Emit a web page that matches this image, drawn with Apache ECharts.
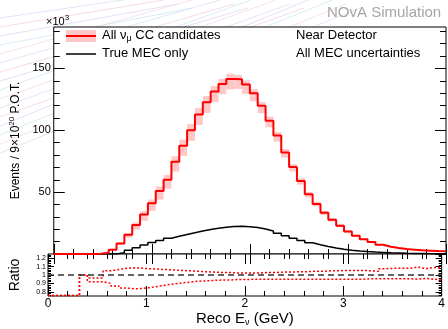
<!DOCTYPE html>
<html>
<head>
<meta charset="utf-8">
<script src="https://cdn.jsdelivr.net/npm/echarts@6/dist/echarts.min.js"></script>
<style>
  html, body { margin: 0; padding: 0; background: #fff; }
  #chart { width: 448px; height: 329px; }
</style>
</head>
<body>
<div id="chart"></div>
<script>
// binning: 50 bins of 0.08 GeV between 0 and 4 GeV
const binWidth = 0.08;
const nBins = 50;

// events per bin (x10^3), all numu CC candidates
const allNumuCC = [
  0, 0, 0, 0, 0.1, 0.3, 1.0, 3.5, 8.5, 15.5,
  23.5, 32, 41, 51, 60, 74.5, 87.6, 100, 112.8, 122.7,
  131.3, 137.4, 141.5, 141.2, 137, 130, 119.8, 107.8, 95.7, 82,
  70.3, 59, 48.2, 40.5, 33.3, 27.6, 22.8, 18.2, 14.7, 12,
  9.6, 7.5, 5.9, 4.9, 4, 3.5, 3, 2.7, 2.4, 2.2
];

// true MEC only (x10^3)
const trueMEC = [
  0, 0, 0, 0, 0, 0, 0, 0, 1.0, 3.0,
  5.0, 7.2, 9.2, 11.0, 12.7, 14.3, 15.8, 17.2, 18.6, 19.8,
  20.8, 21.6, 22.2, 22.4, 22.1, 21.4, 20.2, 18.6, 16.8, 14.8,
  12.8, 10.9, 9.1, 7.5, 6.1, 4.9, 3.9, 3.1, 2.5, 2.0,
  1.6, 1.3, 1.0, 0.8, 0.6, 0.5, 0.4, 0.3, 0.25, 0.2
];

// shifted / nominal ratio, upper and lower envelope of MEC uncertainties
const ratioUp = [
  0.755, 0.755, 0.755, 0.755, 1.0, 0.965, 0.965, 1.05, 1.065, 1.08,
  1.085, 1.08, 1.075, 1.07, 1.065, 1.06, 1.055, 1.05, 1.045, 1.04,
  1.035, 1.03, 1.03, 1.025, 1.025, 1.025, 1.025, 1.03, 1.03, 1.035,
  1.035, 1.04, 1.04, 1.045, 1.045, 1.05, 1.05, 1.055, 1.055, 1.055,
  1.05, 1.045, 1.075, 1.08, 1.08, 1.08, 1.095, 1.075, 1.09, 1.085
];
const ratioDown = [
  0.755, 0.755, 0.755, 0.755, 1.0, 0.92, 0.92, 0.9, 0.87, 0.845,
  0.835, 0.84, 0.85, 0.865, 0.88, 0.895, 0.905, 0.915, 0.925, 0.93,
  0.935, 0.94, 0.94, 0.945, 0.945, 0.95, 0.95, 0.95, 0.95, 0.95,
  0.95, 0.95, 0.95, 0.95, 0.95, 0.95, 0.95, 0.95, 0.95, 0.95,
  0.955, 0.955, 0.955, 0.955, 0.955, 0.955, 0.95, 0.96, 0.95, 0.94
];

// axis ticks
const mainYMajor = [0, 50, 100, 150];
const mainYLabels = [50, 100, 150];
const mainYMinor = [10, 20, 30, 40, 60, 70, 80, 90, 110, 120, 130, 140, 160, 170, 180];
const ratioYMajor = [0.8, 0.9, 1, 1.1, 1.2];
const ratioYMinor = [0.76, 0.78, 0.82, 0.84, 0.86, 0.88, 0.92, 0.94, 0.96, 0.98,
  1.02, 1.04, 1.06, 1.08, 1.12, 1.14, 1.16, 1.18, 1.22, 1.24];

const yMax = 183.5;
const ratioMin = 0.75, ratioMax = 1.25;

const FONT = 'Liberation Sans';

// step-line points: left edge of every bin, plus the last right edge
function stepData(vals) {
  const pts = vals.map((v, i) => [i * binWidth, v]);
  pts.push([nBins * binWidth, vals[nBins - 1]]);
  return pts;
}
// uncertainty band per bin from ratio envelope
const bandData = allNumuCC.map((v, i) => [
  i * binWidth, (i + 1) * binWidth,
  v * Math.min(ratioDown[i], 1), v * Math.max(ratioUp[i], 1)
]);

const rich = {
  sub: { fontSize: 9, fontFamily: FONT, padding: [7, 0, 0, 0] },
  sup: { fontSize: 8, fontFamily: FONT, padding: [0, 0, 7, 0] }
};

const chart = echarts.init(document.getElementById('chart'), null, { renderer: 'canvas' });

function xAxisPair(grid, withLabels) {
  const common = {
    gridIndex: grid, type: 'value', min: 0, max: 4, interval: 1,
    axisLine: { show: false },
    splitLine: { show: false },
    axisTick: { show: true, inside: true, length: 10, lineStyle: { color: '#000', width: 1 } },
    minorTick: { show: true, splitNumber: 5, length: 5, lineStyle: { color: '#000', width: 1 } }
  };
  const bottom = Object.assign({}, common, {
    position: 'bottom',
    axisLabel: withLabels
      ? { show: true, fontSize: 12, fontFamily: FONT, color: '#000', margin: 2 }
      : { show: false }
  });
  if (withLabels) {
    Object.assign(bottom, {
      name: 'Reco E{sub|ν} (GeV)',
      nameLocation: 'middle',
      nameGap: 15,
      nameTextStyle: { fontSize: 15, fontFamily: FONT, color: '#000', rich: rich }
    });
  }
  const top = Object.assign({}, common, { position: 'top', axisLabel: { show: false } });
  return [bottom, top];
}

function yAxisSet(grid, min, max, major, minor, labels, majorLen, minorLen, labelStyle, nameOpts) {
  const base = {
    gridIndex: grid, type: 'value', min: min, max: max,
    axisLine: { show: false }, splitLine: { show: false }
  };
  const tickStyle = { color: '#000', width: 1 };
  const leftMajor = Object.assign({}, base, {
    position: 'left',
    axisTick: { show: true, inside: true, length: majorLen, customValues: major, lineStyle: tickStyle },
    axisLabel: Object.assign({ show: true, customValues: labels, color: '#000', fontFamily: FONT }, labelStyle)
  }, nameOpts);
  const leftMinor = Object.assign({}, base, {
    position: 'left',
    axisTick: { show: true, inside: true, length: minorLen, customValues: minor, lineStyle: tickStyle },
    axisLabel: { show: false }
  });
  const rightMajor = Object.assign({}, base, {
    position: 'right',
    axisTick: { show: true, inside: true, length: majorLen, customValues: major, lineStyle: tickStyle },
    axisLabel: { show: false }
  });
  const rightMinor = Object.assign({}, base, {
    position: 'right',
    axisTick: { show: true, inside: true, length: minorLen, customValues: minor, lineStyle: tickStyle },
    axisLabel: { show: false }
  });
  return [leftMajor, leftMinor, rightMajor, rightMinor];
}

// faint decorative strokes in the margins
const bgColors = ['#c9d6f0', '#efc3d6', '#d7c9ef', '#bfe0ef', '#f1cfe0'];
const bgLines = [];
for (let k = 0; k < 16; k++) {
  bgLines.push({
    type: 'line', silent: true, z: -10,
    shape: { x1: 0, y1: 18 + k * 9, x2: 150 + k * 14, y2: -4 + (k % 4) * 4 },
    style: { stroke: bgColors[k % bgColors.length], lineWidth: 1, opacity: 0.6 }
  });
}

const option = {
  animation: false,
  backgroundColor: '#fff',
  grid: [
    { left: 46, top: 27, width: 400, height: 227, show: true, backgroundColor: '#fff', borderColor: '#000', borderWidth: 1 },
    { left: 46, top: 254, width: 400, height: 42, show: true, backgroundColor: '#fff', borderColor: '#000', borderWidth: 1 }
  ],
  xAxis: [].concat(xAxisPair(0, false), xAxisPair(1, true)),
  yAxis: [].concat(
    yAxisSet(0, 0, yMax, mainYMajor, mainYMinor, mainYLabels, 11, 6,
      { fontSize: 11, margin: 3 },
      {
        name: 'Events / 9×10{sup|20} P.O.T.',
        nameLocation: 'middle', nameGap: 26,
        nameTextStyle: { fontSize: 12, fontFamily: FONT, color: '#000', rich: rich }
      }),
    yAxisSet(1, ratioMin, ratioMax, ratioYMajor, ratioYMinor, ratioYMajor, 6, 3,
      { fontSize: 7, margin: 2, formatter: v => String(+v.toFixed(2)) },
      {
        name: 'Ratio',
        nameLocation: 'middle', nameGap: 26,
        nameTextStyle: { fontSize: 14, fontFamily: FONT, color: '#000' }
      })
  ),
  series: [
    {
      name: 'band', type: 'custom', xAxisIndex: 0, yAxisIndex: 0, z: 1,
      encode: { x: [0, 1], y: [2, 3] },
      data: bandData,
      renderItem: function (params, api) {
        const p0 = api.coord([api.value(0), api.value(3)]);
        const p1 = api.coord([api.value(1), api.value(2)]);
        return {
          type: 'rect',
          shape: { x: p0[0], y: p0[1], width: p1[0] - p0[0], height: p1[1] - p0[1] },
          style: { fill: '#ffc8c8' }
        };
      }
    },
    {
      name: 'True MEC only', type: 'line', step: 'end', xAxisIndex: 0, yAxisIndex: 0,
      data: stepData(trueMEC), showSymbol: false, z: 3,
      lineStyle: { color: '#000', width: 1.5 }
    },
    {
      name: 'All numu CC candidates', type: 'line', step: 'end', xAxisIndex: 0, yAxisIndex: 0,
      data: stepData(allNumuCC), showSymbol: false, z: 4,
      lineStyle: { color: '#ff0000', width: 2 }
    },
    {
      name: 'ratio up', type: 'line', step: 'end', xAxisIndex: 2, yAxisIndex: 4,
      data: stepData(ratioUp), showSymbol: false, z: 4,
      lineStyle: { color: '#ff0000', width: 1.5, type: [2, 2] },
      markLine: {
        silent: true, symbol: 'none', label: { show: false },
        lineStyle: { color: '#333', width: 1.5, type: [6, 4] },
        data: [{ yAxis: 1 }]
      }
    },
    {
      name: 'ratio down', type: 'line', step: 'end', xAxisIndex: 2, yAxisIndex: 4,
      data: stepData(ratioDown), showSymbol: false, z: 4,
      lineStyle: { color: '#ff0000', width: 1.5, type: [2, 2] }
    }
  ],
  graphic: bgLines.concat([
    { type: 'text', left: 327, top: 5, z: 10,
      style: { text: 'NOvA Simulation', fontSize: 15, fontFamily: FONT, fill: '#a6a6a6' } },
    { type: 'text', left: 46, top: 14, z: 10,
      style: { text: '×10{sup|3}', fontSize: 11, fontFamily: FONT, fill: '#000', rich: rich } },
    // legend
    { type: 'rect', shape: { x: 66, y: 30, width: 30, height: 12 }, style: { fill: '#ffc8c8' }, z: 10 },
    { type: 'line', shape: { x1: 66, y1: 36, x2: 96, y2: 36 }, style: { stroke: '#ff0000', lineWidth: 2 }, z: 11 },
    { type: 'text', left: 102, top: 29, z: 10,
      style: { text: 'All ν{sub|μ} CC candidates', fontSize: 13, fontFamily: FONT, fill: '#000', rich: rich } },
    { type: 'line', shape: { x1: 66, y1: 54, x2: 96, y2: 54 }, style: { stroke: '#000', lineWidth: 1.5 }, z: 11 },
    { type: 'text', left: 102, top: 47, z: 10,
      style: { text: 'True MEC only', fontSize: 13, fontFamily: FONT, fill: '#000' } },
    { type: 'text', left: 296, top: 29, z: 10,
      style: { text: 'Near Detector', fontSize: 13, fontFamily: FONT, fill: '#000' } },
    { type: 'text', left: 296, top: 47, z: 10,
      style: { text: 'All MEC uncertainties', fontSize: 13, fontFamily: FONT, fill: '#000' } }
  ])
};

chart.setOption(option);
</script>
</body>
</html>
